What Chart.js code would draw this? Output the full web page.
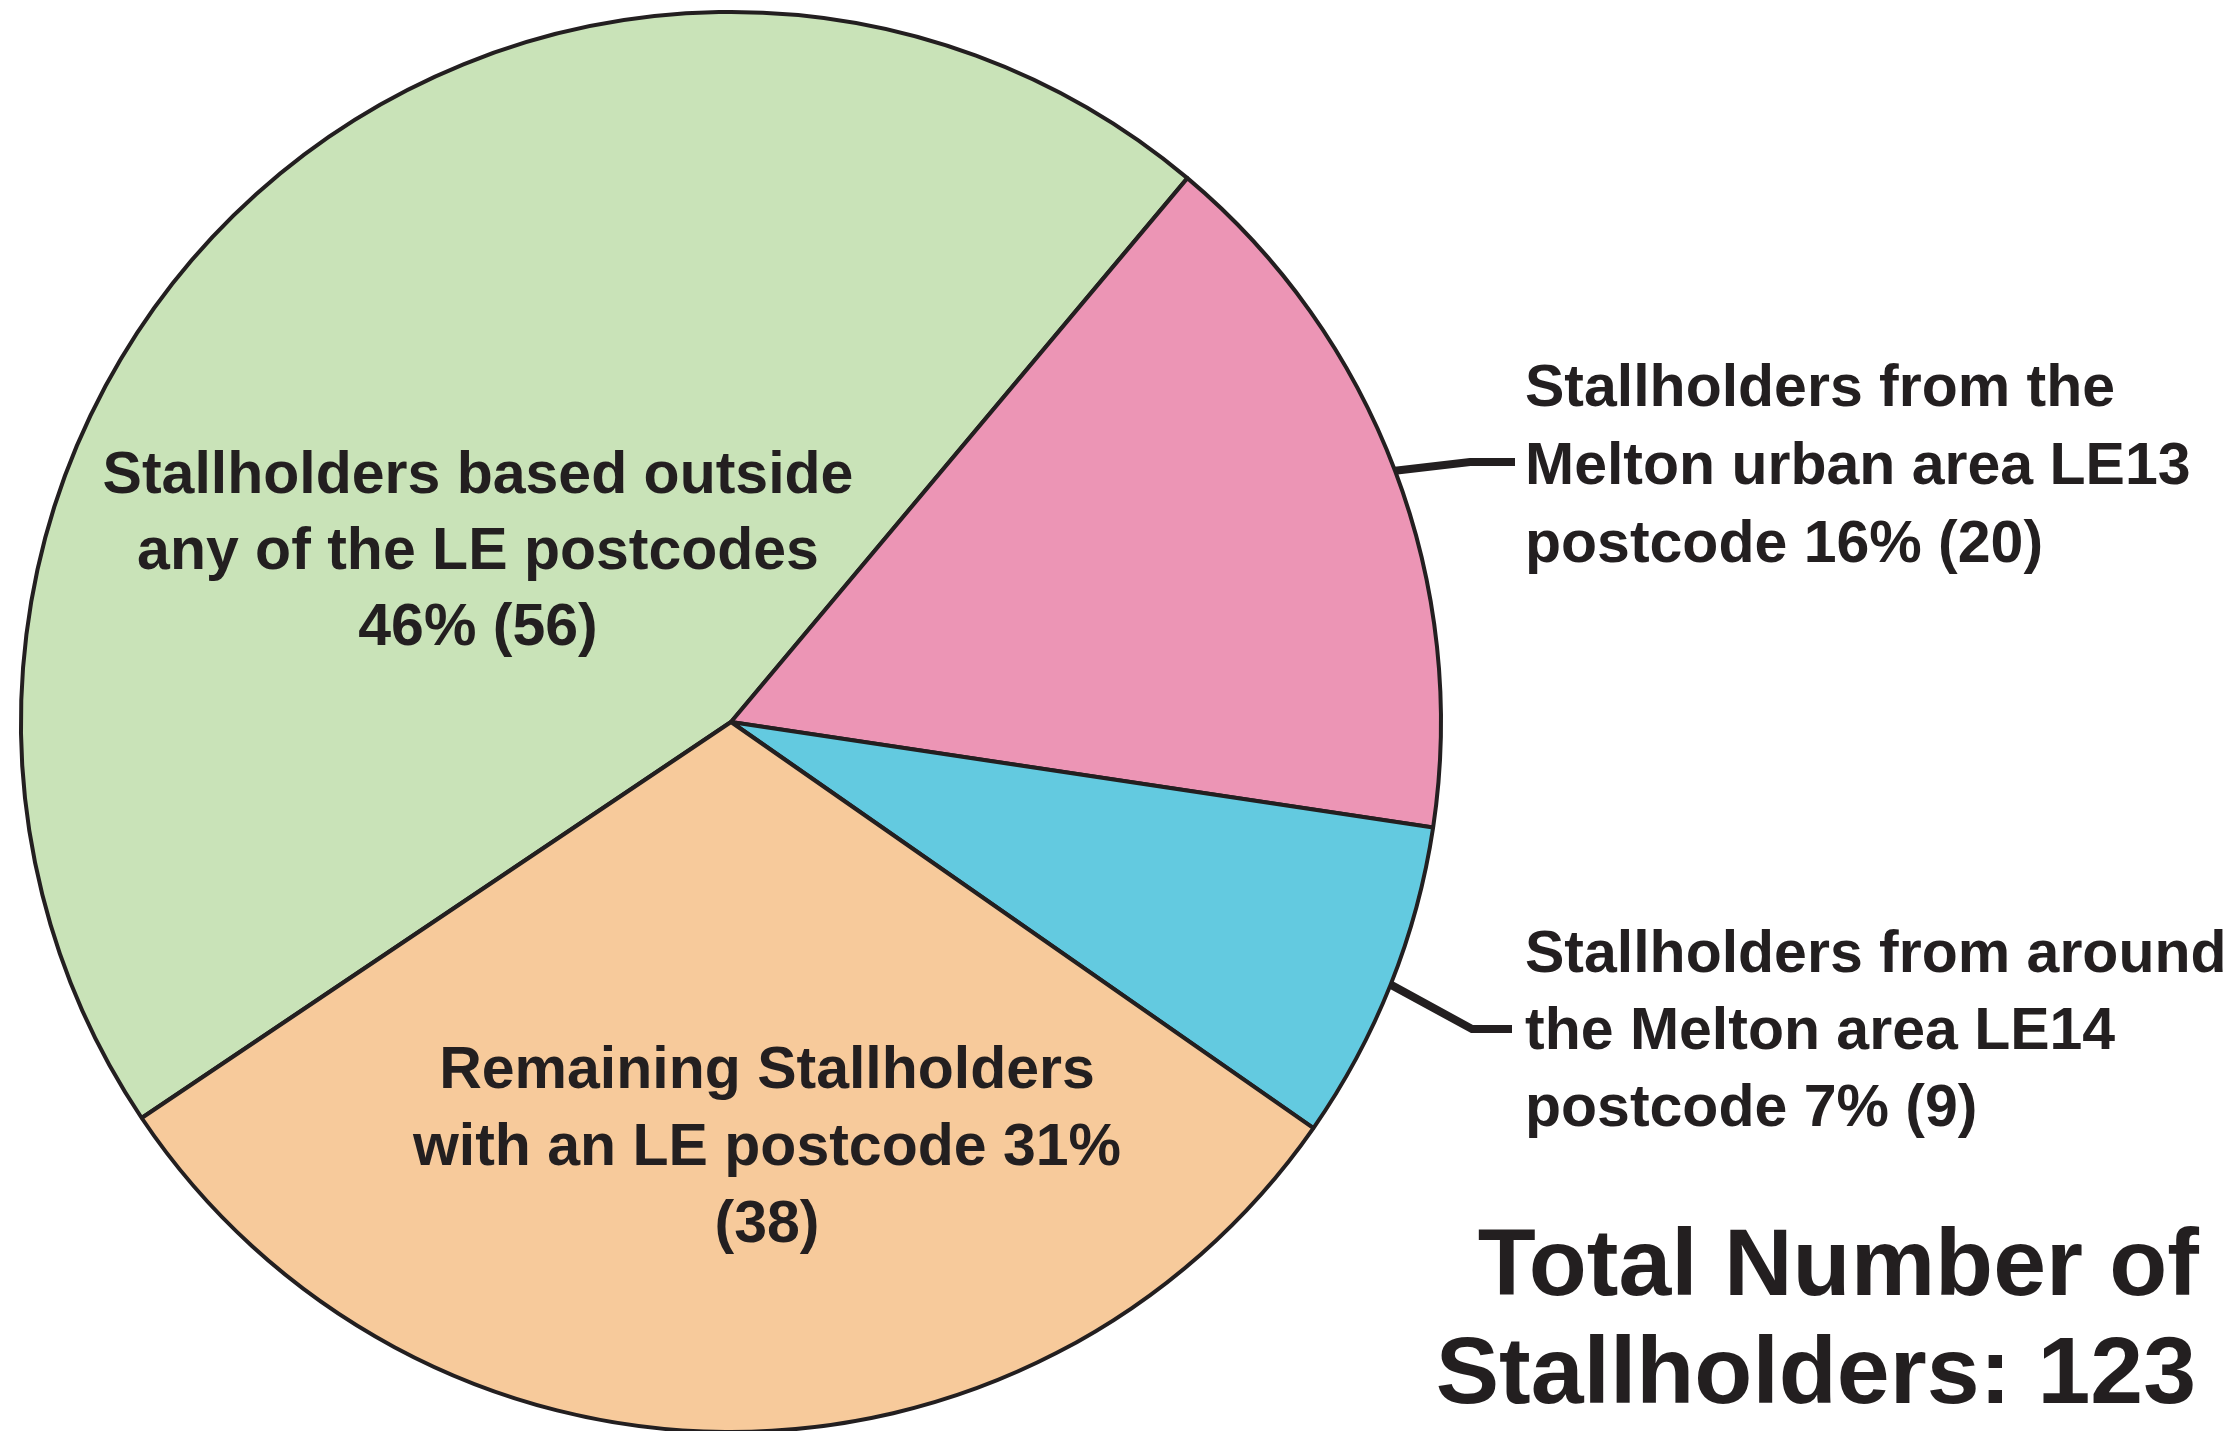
<!DOCTYPE html>
<html>
<head>
<meta charset="utf-8">
<title>Stallholders pie</title>
<script src="https://cdn.jsdelivr.net/npm/chart.js"></script>
<style>
  html, body { margin: 0; padding: 0; background: #fff; }
  canvas { display: block; }
</style>
</head>
<body>
<canvas id="pie" width="2239" height="1431"></canvas>
<script>
// data
const categories = [
  'Stallholders based outside any of the LE postcodes',
  'Stallholders from the Melton urban area LE13 postcode',
  'Stallholders from around the Melton area LE14 postcode',
  'Remaining Stallholders with an LE postcode'
]
const counts = [56, 20, 9, 38]
const percents = [46, 16, 7, 31]
const colors = ['#c9e3b8', '#ec95b5', '#63cae0', '#f7ca9b']

// how each label is broken into lines (same order as categories)
const labelLines = [
  ['Stallholders based outside', 'any of the LE postcodes', '46% (56)'],
  ['Stallholders from the', 'Melton urban area LE13', 'postcode 16% (20)'],
  ['Stallholders from around', 'the Melton area LE14', 'postcode 7% (9)'],
  ['Remaining Stallholders', 'with an LE postcode 31%', '(38)']
]
const totalLines = ['Total Number of', 'Stallholders: ' + counts.reduce((a, b) => a + b, 0)]

const ink = '#231f20'
const labelFont = 'bold 59px "Liberation Sans", Arial, sans-serif'
const totalFont = 'bold 95px "Liberation Sans", Arial, sans-serif'

// label placement: inside labels centred, outside ones left aligned with a leader
const labelPos = [
  { x: 478, y: 493, align: 'center', step: 76 },
  { x: 1525, y: 406, align: 'left', step: 78, elbow: [1470, 462], end: 1515 },
  { x: 1525, y: 972, align: 'left', step: 77, elbow: [1472, 1029], end: 1512 },
  { x: 767, y: 1088, align: 'center', step: 77 }
]

const labelsPlugin = {
  id: 'pieLabels',
  afterDraw(chart) {
    const ctx = chart.ctx
    const arcs = chart.getDatasetMeta(0).data
    ctx.save()
    ctx.fillStyle = ink
    ctx.strokeStyle = ink
    ctx.textBaseline = 'alphabetic'
    ctx.font = labelFont
    labelPos.forEach((p, i) => {
      if (p.elbow) {
        const a = arcs[i]
        const mid = (a.startAngle + a.endAngle) / 2
        ctx.beginPath()
        ctx.lineWidth = 8
        ctx.lineJoin = 'miter'
        ctx.moveTo(a.x + Math.cos(mid) * a.outerRadius, a.y + Math.sin(mid) * a.outerRadius)
        ctx.lineTo(p.elbow[0], p.elbow[1])
        ctx.lineTo(p.end, p.elbow[1])
        ctx.stroke()
      }
      ctx.textAlign = p.align
      labelLines[i].forEach((line, j) => {
        ctx.fillText(line, p.x, p.y + j * p.step)
      })
    })
    ctx.font = totalFont
    ctx.textAlign = 'right'
    ctx.fillText(totalLines[0], 2199, 1295)
    ctx.fillText(totalLines[1], 2196, 1403)
    ctx.restore()
  }
}

new Chart(document.getElementById('pie'), {
  type: 'pie',
  data: {
    labels: categories,
    datasets: [{
      data: counts,
      backgroundColor: colors,
      borderColor: ink,
      borderWidth: 4,
      radius: 710
    }]
  },
  options: {
    responsive: false,
    animation: false,
    rotation: -123.9,
    layout: { padding: { left: 0, right: 777, top: 13, bottom: 0 } },
    plugins: {
      legend: { display: false },
      tooltip: { enabled: false }
    }
  },
  plugins: [labelsPlugin]
})
</script>
</body>
</html>
